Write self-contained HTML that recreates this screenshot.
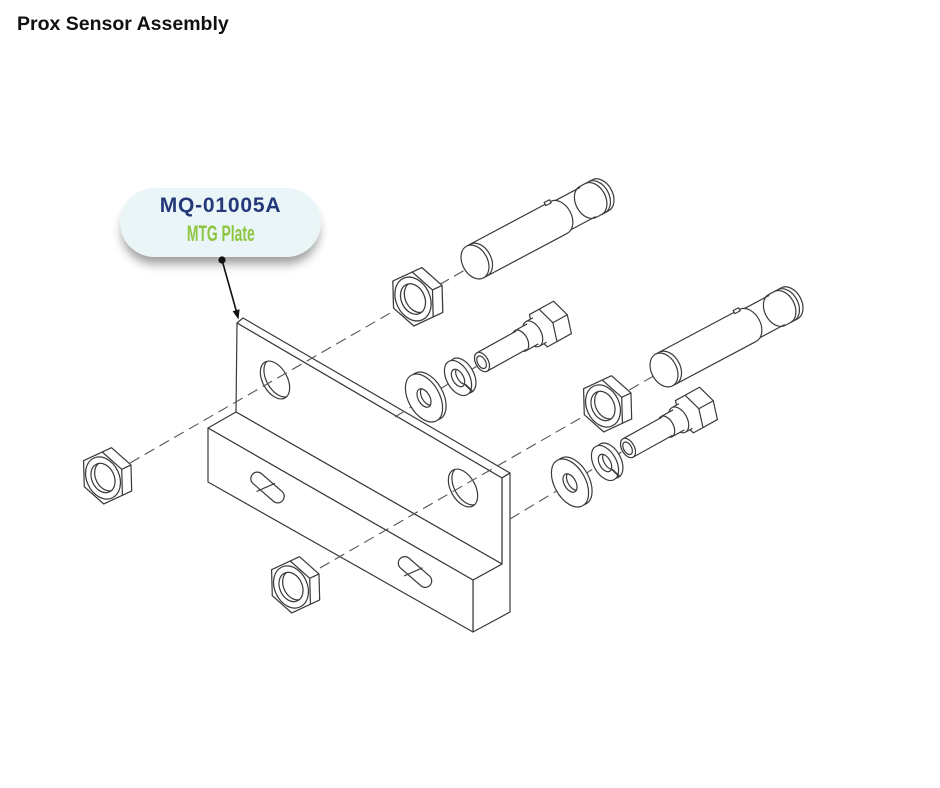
<!DOCTYPE html>
<html><head><meta charset="utf-8"><style>
html,body{margin:0;padding:0;background:#fff;width:940px;height:788px;overflow:hidden;}
body{position:relative;font-family:"Liberation Sans",sans-serif;}
.title{position:absolute;left:17px;top:12px;font-size:19.5px;font-weight:bold;color:#111;line-height:24px;white-space:nowrap;}
.pill{position:absolute;left:120px;top:188px;width:201px;height:69px;border-radius:35px;background:#eaf5f7;box-shadow:0 9px 10px -2px rgba(0,0,0,0.38);}
.code{position:absolute;left:120px;width:201px;top:192px;text-align:center;font-size:21px;font-weight:bold;color:#24387a;letter-spacing:0.8px;line-height:28px;white-space:nowrap;}
.sub{position:absolute;left:120px;width:201px;top:221px;text-align:center;line-height:26px;white-space:nowrap;}
.sub span{display:inline-block;font-size:22px;font-weight:bold;color:#8cc63f;transform:scaleX(0.63);}
svg{position:absolute;left:0;top:0;}
</style></head><body>
<div class="title">Prox Sensor Assembly</div>
<div class="pill"></div>
<div class="code">MQ-01005A</div>
<div class="sub"><span>MTG Plate</span></div>
<svg width="940" height="788" viewBox="0 0 940 788" xmlns="http://www.w3.org/2000/svg">
<defs>
 <g id="nut">
  <polygon points="-20.25,0 -10.1,-23.4 20.1,-23.4 30.25,0 20.1,23.4 -10.1,23.4"/>
  <polyline points="10.1,-23.4 20.25,0 10.1,23.4" fill="none"/>
  <line x1="20.25" y1="0" x2="30.25" y2="0"/>
  <ellipse rx="16" ry="21.5" fill="none"/>
  <ellipse rx="11" ry="15" fill="none"/>
  <path d="M2,-14.75 A11,15 0 0 0 2,14.75" fill="none"/>
 </g>
 <g id="washer">
  <ellipse cx="4" rx="15.6" ry="26"/>
  <ellipse rx="15.6" ry="26"/>
  <ellipse rx="5.8" ry="10" fill="none"/>
  <path d="M2,-9.4 A5.8,10 0 0 0 2,9.4" fill="none"/>
 </g>
 <g id="lock">
  <ellipse cx="5" rx="11.4" ry="19"/>
  <ellipse rx="11.4" ry="19"/>
  <ellipse rx="5.5" ry="9.5" fill="none"/>
  <path d="M2.5,-8.46 A5.5,9.5 0 0 0 2.5,8.46" fill="none"/>
  <path d="M3,8.8 L6,18.4" stroke-width="1.8" fill="none"/>
 </g>
 <g id="bolt">
  <polygon points="59,0 64.5,-18.5 92,-18.5 97.5,0 92,18.5 64.5,18.5"/>
  <polyline points="75.5,-18.5 81,0 75.5,18.5" fill="none"/>
  <line x1="81" y1="0" x2="97.5" y2="0"/>
  <path d="M58,-14 H66 V14 H58 Z" stroke="none"/>
  <path d="M58,-14 H66 M58,14 H66" fill="none"/>
  <ellipse cx="58" rx="8.4" ry="14"/>
  <rect x="44" y="-11.5" width="14" height="23" stroke="none"/>
  <path d="M44,-11.5 H58 M44,11.5 H58" fill="none"/>
  <ellipse cx="44" rx="6.9" ry="11.5"/>
  <rect x="0" y="-10.5" width="45" height="21" stroke="none"/>
  <path d="M0,-10.5 H45 M0,10.5 H45" fill="none"/>
  <ellipse rx="6.3" ry="10.5"/>
  <ellipse cx="-0.5" rx="4" ry="6.8" fill="none"/>
 </g>
 <g id="sensor">
  <path d="M142,-17.5 A12.3,17.5 0 0 1 142,17.5"/>
  <rect x="128" y="-17.5" width="14" height="35" stroke="none"/>
  <path d="M128,-17.5 H142 M128,17.5 H142" fill="none"/>
  <path d="M134,-17.5 A12.3,17.5 0 0 1 134,17.5 M138,-17.5 A12.3,17.5 0 0 1 138,17.5" fill="none"/>
  <rect x="95" y="-16.5" width="33" height="33" stroke="none"/>
  <path d="M95,-16.5 H128 M95,16.5 H128" fill="none"/>
  <path d="M128,-17.5 A12.3,17.5 0 0 0 128,17.5" fill="none"/>
  <ellipse cx="103" cy="6" rx="2.6" ry="3.6"/>
  <path d="M95,-18 A12.6,18 0 0 1 95,18"/>
  <rect x="0" y="-18" width="95" height="36" stroke="none"/>
  <path d="M0,-18 H95 M0,18 H95" fill="none"/>
  <rect x="89" y="-20" width="6" height="3.5"/>
  <path d="M4,-18 A12.6,18 0 0 1 4,18" fill="none"/>
  <ellipse rx="12.6" ry="18"/>
 </g>
</defs>

<g fill="#fff" stroke="#3a3a3a" stroke-width="1.2" stroke-linejoin="round">
 <!-- left and bottom nuts -->
 <use href="#nut" transform="translate(103,478) rotate(-25) scale(1.02)"/>
 <use href="#nut" transform="translate(291,587) rotate(-25) scale(1.02)"/>
 <!-- plate -->
 <polygon points="237,323 243,318 510,473 502,478"/>
 <polygon points="502,478 510,473 510,612 473,632 473,580 502,564"/>
 <polygon points="237,323 502,478 502,564 236,412"/>
 <polygon points="208,428 236,412 502,564 473,580"/>
 <polygon points="208,428 473,580 473,632 208,482"/>
 <!-- holes -->
 <g transform="translate(275,380) rotate(-29)">
  <ellipse rx="12.3" ry="20.5"/>
  <path d="M2,-20.2 A12.3,20.5 0 0 0 2,20.2" fill="none"/>
 </g>
 <g transform="translate(463,488) rotate(-29)">
  <ellipse rx="12.3" ry="20.5"/>
  <path d="M2,-20.2 A12.3,20.5 0 0 0 2,20.2" fill="none"/>
 </g>
 <!-- slots -->
 <g transform="translate(267.5,487.5) rotate(41)">
  <rect x="-20" y="-6.5" width="40" height="13" rx="6.5" ry="6.5"/>
 </g>
 <line x1="256.5" y1="491.5" x2="275" y2="483.3"/>
 <g transform="translate(415,572) rotate(41)">
  <rect x="-20" y="-6.5" width="40" height="13" rx="6.5" ry="6.5"/>
 </g>
 <line x1="404" y1="576" x2="422.5" y2="567.8"/>
</g>

<!-- axis lines -->
<g fill="none" stroke="#555" stroke-width="1.1" stroke-dasharray="11 6">
 <path d="M130,463 L477,263"/>
 <path d="M320,568 L664,370"/>
 <path d="M395,417 L482,363"/>
 <path d="M510,519 L628,448"/>
</g>

<g fill="#fff" stroke="#3a3a3a" stroke-width="1.2" stroke-linejoin="round">
 <use href="#sensor" transform="translate(475,262) rotate(-28)"/>
 <use href="#sensor" transform="translate(664,370) rotate(-28)"/>
 <use href="#nut" transform="translate(413,299) rotate(-25) scale(1.06)"/>
 <use href="#nut" transform="translate(603,406) rotate(-25) scale(1.02)"/>
 <use href="#bolt" transform="translate(482,362) rotate(-29)"/>
 <use href="#bolt" transform="translate(628,448) rotate(-29)"/>
 <use href="#lock" transform="translate(458,378) rotate(-29)"/>
 <use href="#lock" transform="translate(605,463) rotate(-29)"/>
 <use href="#washer" transform="translate(424,398) rotate(-29)"/>
 <use href="#washer" transform="translate(570,483) rotate(-29)"/>
</g>

<!-- connector -->
<circle cx="222" cy="260" r="3.6" fill="#111"/>
<line x1="222" y1="260" x2="236.3" y2="311" stroke="#111" stroke-width="1.6"/>
<polygon points="238.5,319.5 232.6,311.2 239.6,309.3" fill="#111"/>
</svg>
</body></html>
